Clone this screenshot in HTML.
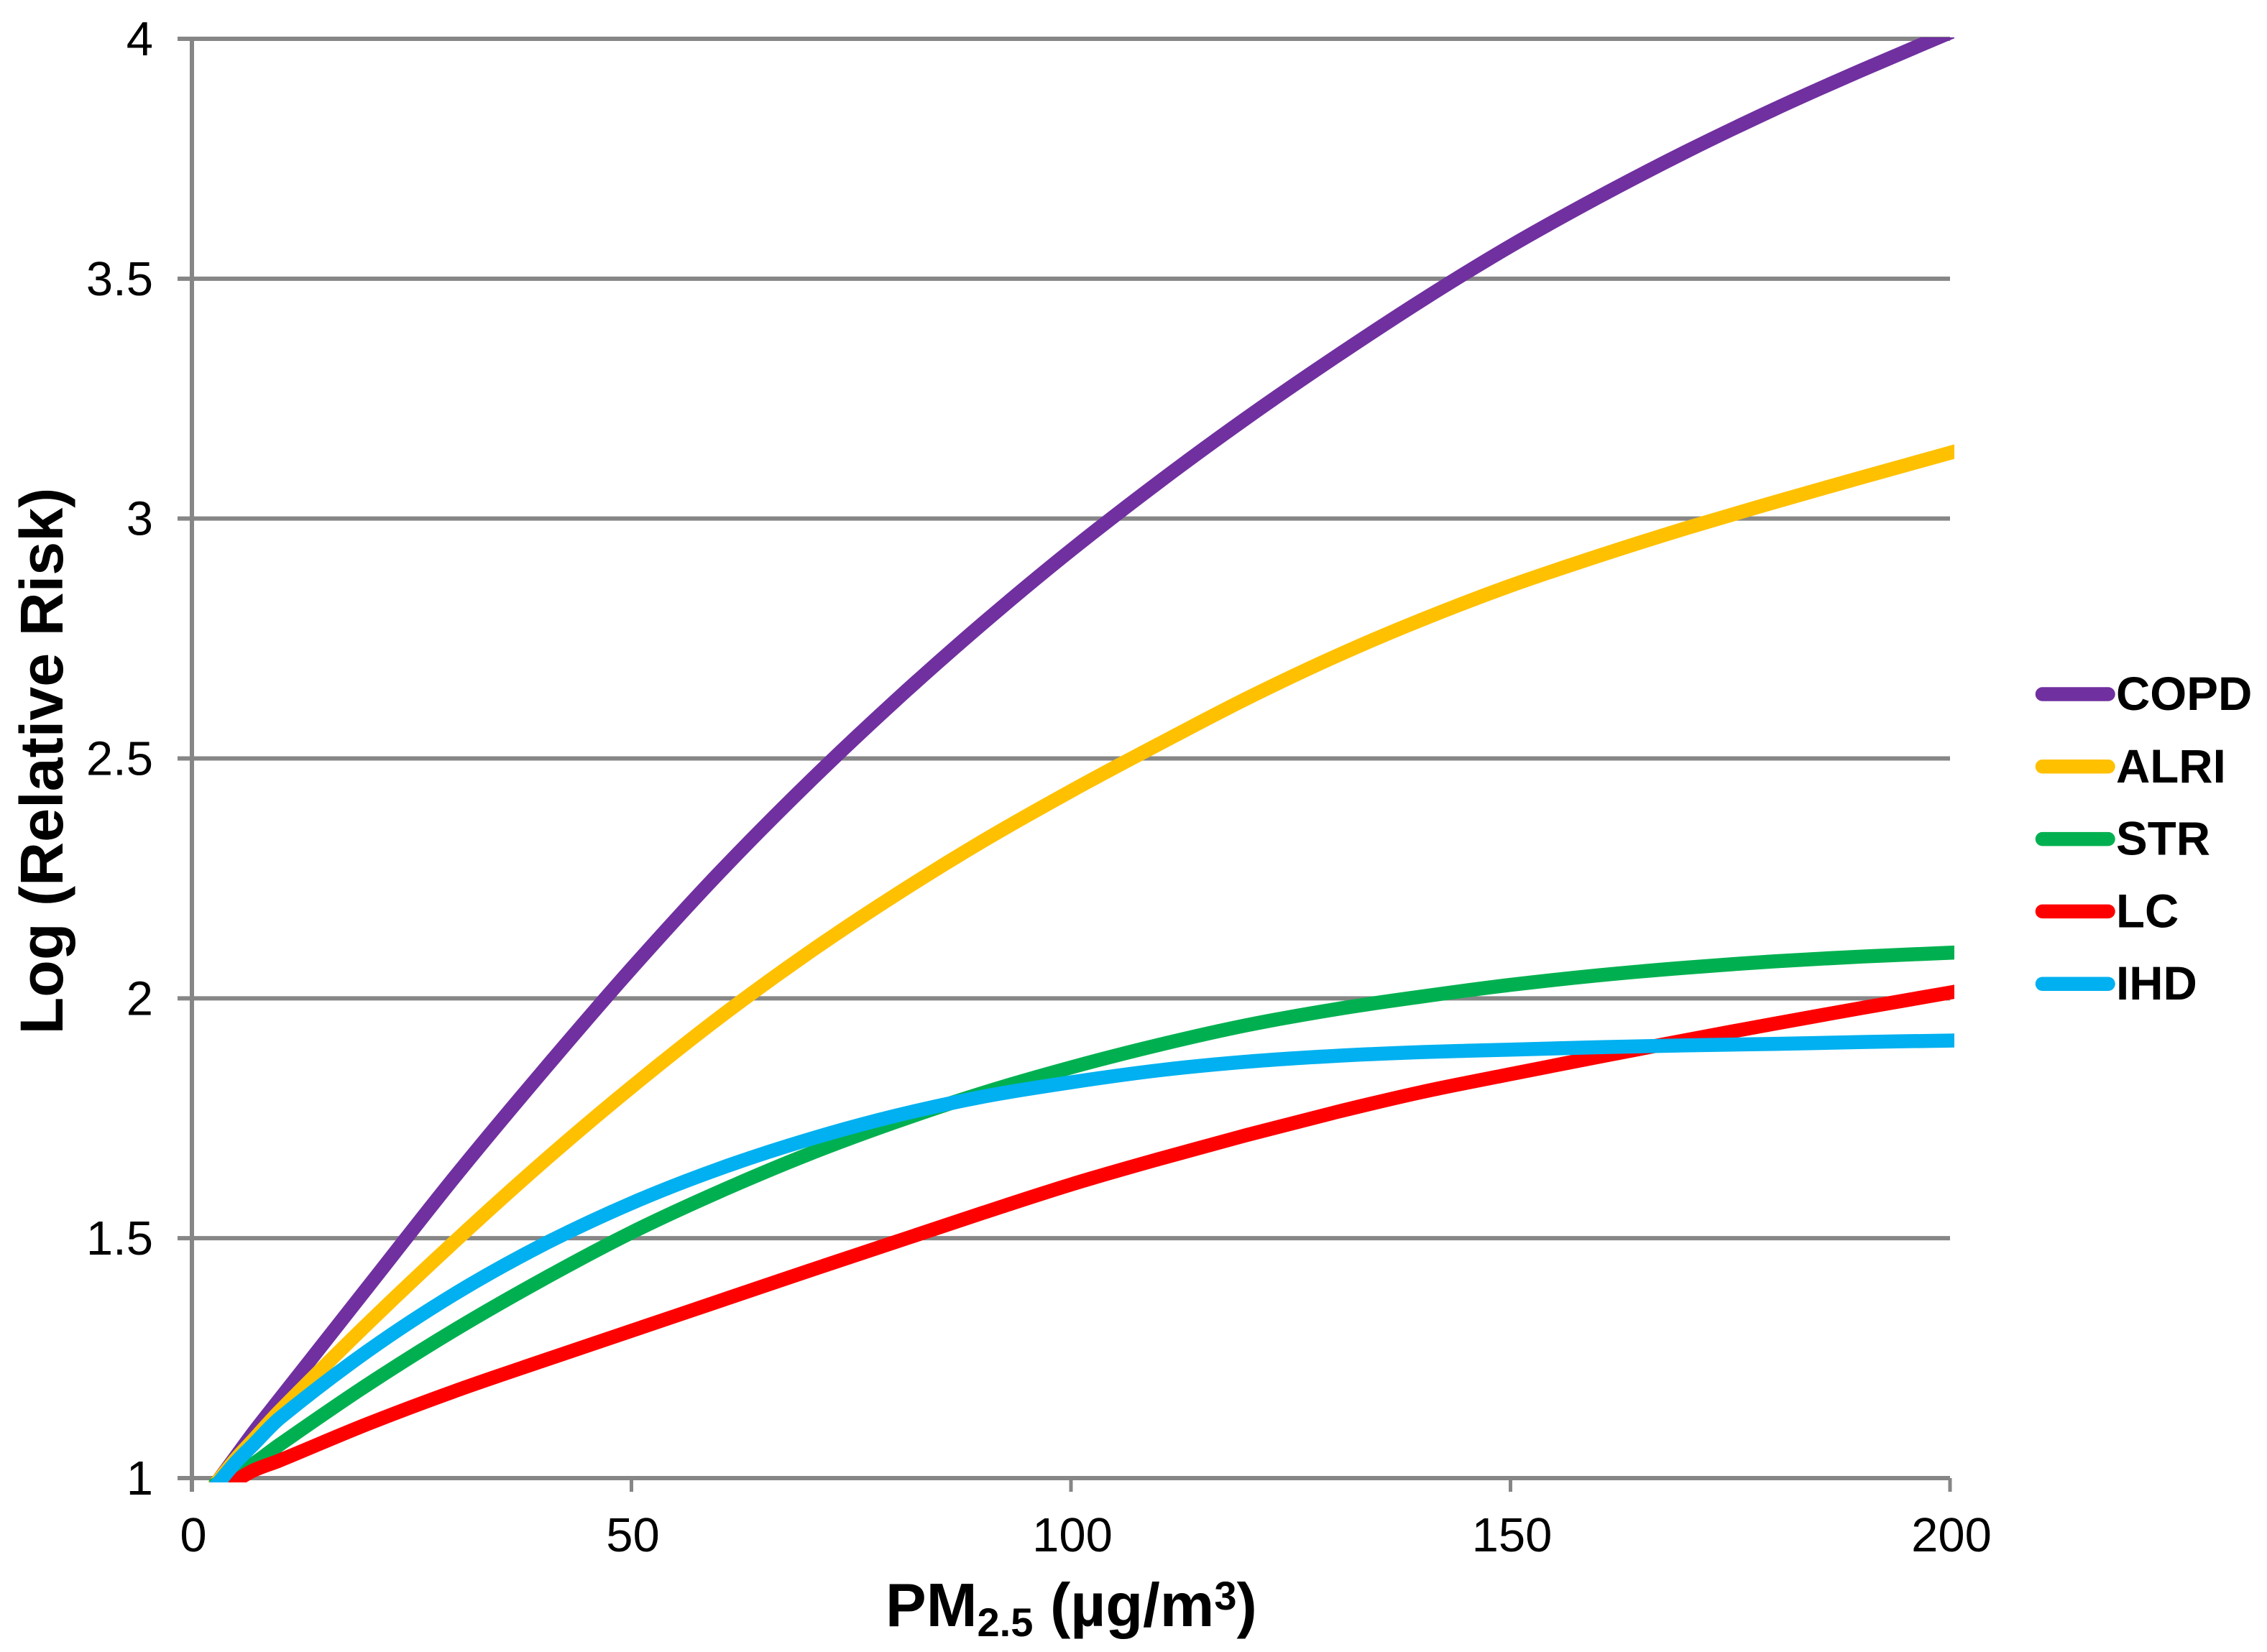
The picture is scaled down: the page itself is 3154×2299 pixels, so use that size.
<!DOCTYPE html>
<html lang="en">
<head>
<meta charset="utf-8">
<title>Log Relative Risk vs PM2.5</title>
<style>
html,body{margin:0;padding:0;background:#fff;width:3154px;height:2299px;overflow:hidden}
svg{display:block;font-family:"Liberation Sans",Arial,sans-serif}
</style>
</head>
<body>
<svg id="chart" xmlns="http://www.w3.org/2000/svg" width="3154" height="2299" viewBox="0 0 3154 2299">
  <defs>
    <clipPath id="plot-clip"><rect x="260" y="52" width="2459" height="2011"></rect></clipPath>
  </defs>
  <rect x="0" y="0" width="3154" height="2299" fill="#ffffff"></rect>
  <g id="grid"></g>
  <g id="axes"></g>
  <g id="series" clip-path="url(#plot-clip)"></g>
  <g id="legend"></g>
  <text transform="translate(87,1059) rotate(-90)" text-anchor="middle" font-size="84.5" font-weight="700" fill="#000">Log (Relative Risk)</text>
  <text x="1232" y="2263" font-size="85" font-weight="700" fill="#000">PM<tspan font-size="56" dy="14">2.5</tspan><tspan dy="-14"> (µg/m</tspan><tspan font-size="56" dy="-23">3</tspan><tspan dy="23">)</tspan></text>
</svg>
<script>
const xValues = [3, 5, 7, 10, 20, 30, 40, 50, 60, 70, 80, 90, 100, 110, 120, 130, 140, 150, 160, 170, 180, 190, 200];
const copdValues = [0.995, 1.045, 1.095, 1.165, 1.398, 1.63, 1.85, 2.062, 2.262, 2.447, 2.62, 2.782, 2.934, 3.076, 3.21, 3.336, 3.456, 3.568, 3.67, 3.765, 3.853, 3.935, 4.013];
const alriValues = [0.995, 1.04, 1.08, 1.14, 1.322, 1.495, 1.66, 1.815, 1.96, 2.093, 2.215, 2.328, 2.432, 2.53, 2.625, 2.712, 2.79, 2.86, 2.922, 2.98, 3.034, 3.086, 3.137];
const strValues = [0.99, 1.01, 1.03, 1.07, 1.195, 1.31, 1.415, 1.512, 1.597, 1.674, 1.742, 1.803, 1.856, 1.903, 1.944, 1.977, 2.004, 2.028, 2.048, 2.064, 2.077, 2.087, 2.095];
const lcValues = [null, 0.995, 1.016, 1.037, 1.113, 1.182, 1.245, 1.307, 1.369, 1.431, 1.492, 1.553, 1.612, 1.665, 1.715, 1.762, 1.805, 1.842, 1.878, 1.913, 1.947, 1.98, 2.012];
const ihdValues = [0.99, 1.033, 1.07, 1.125, 1.265, 1.385, 1.487, 1.573, 1.645, 1.705, 1.755, 1.795, 1.825, 1.85, 1.868, 1.88, 1.888, 1.893, 1.898, 1.902, 1.905, 1.909, 1.912];
const seriesNames = ["COPD", "ALRI", "STR", "LC", "IHD"];
const seriesColors = ["#7030A0", "#FFC000", "#00B050", "#FF0000", "#00B0F0"];
const yTickValues = [1, 1.5, 2, 2.5, 3, 3.5, 4];
const xTickValues = [0, 50, 100, 150, 200];

const allSeries = [copdValues, alriValues, strValues, lcValues, ihdValues];
const SVG_NS = "http://www.w3.org/2000/svg";
const xMin = 0, xMax = 200, yMin = 1, yMax = 4;
const plotLeft = 267, plotRight = 2713, plotTop = 54, plotBottom = 2057;
function xScale(v) { return plotLeft + (v - xMin) / (xMax - xMin) * (plotRight - plotLeft); }
function yScale(v) { return plotBottom - (v - yMin) / (yMax - yMin) * (plotBottom - plotTop); }
function make(tag, attrs, parent) {
  const el = document.createElementNS(SVG_NS, tag);
  for (const k in attrs) el.setAttribute(k, attrs[k]);
  parent.appendChild(el);
  return el;
}
const gridGroup = document.getElementById("grid");
const axesGroup = document.getElementById("axes");
const seriesGroup = document.getElementById("series");
const legendGroup = document.getElementById("legend");

yTickValues.forEach(function (v) {
  const line = make("line", { x1: 247, x2: plotRight, y1: yScale(v), y2: yScale(v), stroke: "#868686", "stroke-width": 6 }, gridGroup);
  
  
  const label = make("text", { x: 213, y: yScale(v) + 23, "text-anchor": "end", "font-size": 67, fill: "#000" }, axesGroup);
  label.textContent = String(v);
  
  
});

const yAxisLine = make("line", { x1: plotLeft, x2: plotLeft, y1: plotTop, y2: 2076, stroke: "#868686", "stroke-width": 6 }, axesGroup);



xTickValues.forEach(function (v) {
  const tick = make("line", { x1: xScale(v), x2: xScale(v), y1: plotBottom, y2: 2076, stroke: "#868686", "stroke-width": 5 }, axesGroup);
  
  
  const label = make("text", { x: xScale(v) + 2, y: 2159, "text-anchor": "middle", "font-size": 67, fill: "#000" }, axesGroup);
  label.textContent = String(v);
  
  
});

function smoothPath(points) {
  let d = "M" + points[0][0].toFixed(1) + " " + points[0][1].toFixed(1);
  for (let i = 0; i < points.length - 1; i++) {
    const p0 = points[Math.max(0, i - 1)];
    const p1 = points[i];
    const p2 = points[i + 1];
    const p3 = points[Math.min(points.length - 1, i + 2)];
    const h = p2[0] - p1[0];
    const m1 = (p2[1] - p0[1]) / (p2[0] - p0[0]);
    const m2 = (p3[1] - p1[1]) / (p3[0] - p1[0]);
    d += " C" + (p1[0] + h / 3).toFixed(1) + " " + (p1[1] + m1 * h / 3).toFixed(1) + " " +
         (p2[0] - h / 3).toFixed(1) + " " + (p2[1] - m2 * h / 3).toFixed(1) + " " +
         p2[0].toFixed(1) + " " + p2[1].toFixed(1);
  }
  return d;
}

allSeries.forEach(function (values, s) {
  const points = [];
  values.forEach(function (v, i) {
    if (v !== null) points.push([xScale(xValues[i]), yScale(v)]);
  });
  const path = make("path", { d: smoothPath(points), fill: "none", stroke: seriesColors[s], "stroke-width": 19.5, "stroke-linecap": "square", "stroke-linejoin": "round" }, seriesGroup);
  
  

  const rowY = 966 + s * 100.8;
  const key = make("line", { x1: 2841.5, x2: 2933, y1: rowY, y2: rowY, stroke: seriesColors[s], "stroke-width": 19.5, "stroke-linecap": "round" }, legendGroup);
  
  
  const label = make("text", { x: 2944, y: rowY + 22, "font-size": 65.5, "font-weight": 700, fill: "#000" }, legendGroup);
  label.textContent = seriesNames[s];
  
  
});
</script>
</body>
</html>
